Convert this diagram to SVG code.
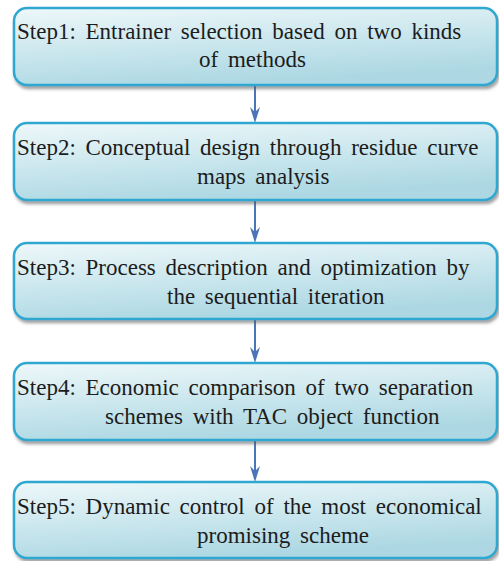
<svg xmlns="http://www.w3.org/2000/svg" width="499" height="561" viewBox="0 0 499 561">
<defs>
<linearGradient id="g" x1="0" y1="0" x2="0.35" y2="1">
<stop offset="0" stop-color="#eef8fa"/>
<stop offset="1" stop-color="#add8e3"/>
</linearGradient>
<filter id="sh" x="-5%" y="-10%" width="112%" height="130%">
<feDropShadow dx="1.5" dy="3" stdDeviation="1.8" flood-color="#555" flood-opacity="0.55"/>
</filter>
</defs>
<g id="connectors" stroke="#4a76b8" stroke-width="2" fill="#4a76b8">
<line x1="255" y1="86" x2="255" y2="112"/>
<polygon stroke="none" points="250,107 255,123 260,107 255,112"/>
<line x1="255" y1="201" x2="255" y2="232"/>
<polygon stroke="none" points="250,227 255,243 260,227 255,232"/>
<line x1="255" y1="320" x2="255" y2="352"/>
<polygon stroke="none" points="250,347 255,363 260,347 255,352"/>
<line x1="255" y1="441" x2="255" y2="471"/>
<polygon stroke="none" points="250,466 255,482 260,466 255,471"/>
</g>
<g id="step1">
<rect x="14" y="8" width="483" height="77" rx="13" fill="url(#g)" stroke="#2ea7d1" stroke-width="2.5" filter="url(#sh)"/>
<text x="17" y="39" font-family="Liberation Serif" font-size="23" fill="#1c1c1c" word-spacing="4">Step1: Entrainer selection based on two kinds</text>
<text x="199" y="67" font-family="Liberation Serif" font-size="23" fill="#1c1c1c" word-spacing="4">of methods</text>
</g>
<g id="step2">
<rect x="14" y="123" width="483" height="77" rx="13" fill="url(#g)" stroke="#2ea7d1" stroke-width="2.5" filter="url(#sh)"/>
<text x="17" y="155" font-family="Liberation Serif" font-size="23" fill="#1c1c1c" word-spacing="4">Step2: Conceptual design through residue curve</text>
<text x="197" y="184" font-family="Liberation Serif" font-size="23" fill="#1c1c1c" word-spacing="4">maps analysis</text>
</g>
<g id="step3">
<rect x="14" y="243" width="483" height="76" rx="13" fill="url(#g)" stroke="#2ea7d1" stroke-width="2.5" filter="url(#sh)"/>
<text x="17" y="275" font-family="Liberation Serif" font-size="23" fill="#1c1c1c" word-spacing="4">Step3: Process description and optimization by</text>
<text x="167" y="304" font-family="Liberation Serif" font-size="23" fill="#1c1c1c" word-spacing="4">the sequential iteration</text>
</g>
<g id="step4">
<rect x="14" y="363" width="483" height="77" rx="13" fill="url(#g)" stroke="#2ea7d1" stroke-width="2.5" filter="url(#sh)"/>
<text x="17" y="395" font-family="Liberation Serif" font-size="23" fill="#1c1c1c" word-spacing="4">Step4: Economic comparison of two separation</text>
<text x="105" y="424" font-family="Liberation Serif" font-size="23" fill="#1c1c1c" word-spacing="4">schemes with TAC object function</text>
</g>
<g id="step5">
<rect x="14" y="482" width="483" height="76" rx="13" fill="url(#g)" stroke="#2ea7d1" stroke-width="2.5" filter="url(#sh)"/>
<text x="17" y="514" font-family="Liberation Serif" font-size="23" fill="#1c1c1c" word-spacing="4">Step5: Dynamic control of the most economical</text>
<text x="197" y="543" font-family="Liberation Serif" font-size="23" fill="#1c1c1c" word-spacing="4">promising scheme</text>
</g>
</svg>
